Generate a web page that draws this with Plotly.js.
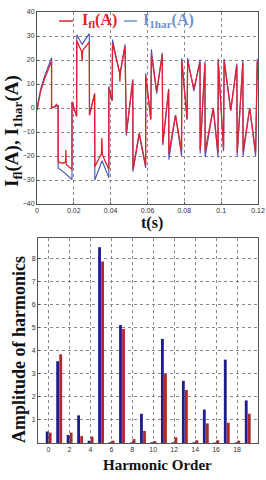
<!DOCTYPE html>
<html>
<head>
<meta charset="utf-8">
<script src="https://cdn.plot.ly/plotly-3.0.1.min.js"></script>
<style>
html,body{margin:0;padding:0;background:#fff;}
#chart{width:266px;height:480px;}
</style>
</head>
<body>
<div id="chart"></div>
<script>
// ---- Time-domain data (s, A) ----
const tHar = [0,0.0008,0.002,0.004,0.006,0.0079,0.0079,0.0095,0.0115,0.0115,0.015,0.019,0.019,0.0215,0.0216,0.0245,0.0284,0.0285,0.0313,0.0314,0.0353,0.039,0.039,0.0408,0.041,0.045,0.0478,0.0485,0.052,0.0521,0.0555,0.059,0.059,0.0618,0.0621,0.065,0.068,0.0683,0.0715,0.0716,0.0752,0.0785,0.0786,0.0815,0.0818,0.0852,0.0885,0.0886,0.0912,0.0913,0.0957,0.0983,0.0984,0.1013,0.1016,0.1052,0.1085,0.1087,0.1118,0.1119,0.1155,0.1187,0.1196,0.12];
const iHar = [0,3,8,13,17,21,0.5,0.3,1.2,-25,-27,-29.8,2.5,-3.5,30.5,26.5,31,-3,6,-30,-22,-29,9,3,28.5,14,26.5,-11.5,12,-26.5,-11,-25,14.5,-5,24.5,6,23,-15.5,8,-21.5,-3,-20,20.8,-5,20.8,7,20.2,-19,19.5,-20.5,0,-20.5,20.5,-18,20.5,-1,18.5,-20,20,-20,0,-20,20.5,12.5];

const tFl = [0,0.0008,0.002,0.004,0.006,0.0079,0.0079,0.0095,0.0105,0.0112,0.0115,0.0115,0.014,0.0155,0.0157,0.0159,0.019,0.019,0.0215,0.0216,0.0242,0.0245,0.0248,0.0284,0.0285,0.0313,0.0314,0.035,0.0352,0.0355,0.039,0.039,0.0408,0.041,0.0448,0.045,0.0453,0.0478,0.0485,0.052,0.0521,0.0555,0.059,0.059,0.0618,0.0621,0.065,0.068,0.0683,0.0715,0.0716,0.0752,0.0785,0.0786,0.0815,0.0818,0.0852,0.0885,0.0886,0.0912,0.0913,0.0957,0.0983,0.0984,0.1013,0.1016,0.1052,0.1085,0.1087,0.1118,0.1119,0.1155,0.1187,0.1196,0.12];
const iFl = [-1,2,7,12,15.5,19.5,0,0.5,1.5,0.5,1,-22.5,-23,-22.5,-17.5,-23.5,-25.5,2.5,-3.5,28,23.5,19.5,24,27.5,-3,6,-24.5,-19,-12.5,-19.5,-25.5,8.5,3,27,15,11,15,25.5,-10.5,11.5,-25.5,-10.5,-24,13.5,-4.5,22,7,22,-14.5,7.5,-19,-3,-18,19.5,-4.5,19.5,8,19,-17.5,18.5,-18,0,-18.5,19.5,-17,19.5,-1,17.8,-18.5,18.5,-18,0,-18.5,19.5,12];

// ---- Harmonic spectrum data ----
const harmOrder = [0,1,2,3,4,5,6,7,8,9,10,11,12,13,14,15,16,17,18,19];
const ampBlue = [0.5,3.55,0.35,1.2,0.1,8.5,0.03,5.12,0.02,1.27,0.03,4.52,0.03,2.7,0.03,1.45,0.02,3.62,0.02,1.85];
const ampRed  = [0.45,3.85,0.45,0.3,0.28,7.88,0.1,4.95,0.17,0.52,0.08,3.0,0.25,2.3,0.12,0.85,0.12,0.88,0.1,1.27];

const xTickVals1 = [0,0.02,0.04,0.06,0.08,0.1,0.12];
const xTickText1 = ['0','0.02','0.04','0.06','0.08','0.1','0.12'];
const yTickVals1 = [-40,-30,-20,-10,0,10,20,30,40];
const xTickVals2 = [0,2,4,6,8,10,12,14,16,18];
const yTickVals2 = [1,2,3,4,5,6,7,8];

const W = 266, H = 480;
const px = x => x / W;
const py = y => 1 - y / H;

const RED = '#e3222b';
const BLUE = '#4a4fc4';
const BLUE_TXT = '#6f8fd0';
const SERIF = 'Liberation Serif, Times New Roman, serif';

const traces = [
  {x: tHar, y: iHar, type: 'scatter', mode: 'lines', line: {color: BLUE, width: 1.1}, xaxis: 'x', yaxis: 'y', showlegend: false},
  {x: tFl, y: iFl, type: 'scatter', mode: 'lines', line: {color: RED, width: 1.3}, xaxis: 'x', yaxis: 'y', showlegend: false},
  {x: harmOrder, y: ampBlue, type: 'bar', width: 0.27, offset: -0.26, marker: {color: '#1e1e8e'}, xaxis: 'x2', yaxis: 'y2', showlegend: false},
  {x: harmOrder, y: ampRed, type: 'bar', width: 0.27, offset: 0.03, marker: {color: '#a92b2e'}, xaxis: 'x2', yaxis: 'y2', showlegend: false}
];

const axCommon = {
  showgrid: true, gridcolor: '#8a8a8a', griddash: 'dot', gridwidth: 1,
  showline: true, linecolor: '#555', linewidth: 1, mirror: true,
  ticks: 'inside', ticklen: 2, tickcolor: '#555',
  tickfont: {size: 7, color: '#333', family: 'Arial'},
  zeroline: false, fixedrange: true
};

const layout = {
  width: W, height: H,
  margin: {l: 0, r: 0, t: 0, b: 0},
  paper_bgcolor: '#fff', plot_bgcolor: '#fff',
  barmode: 'overlay',
  xaxis: Object.assign({}, axCommon, {domain: [px(37), px(258)], range: [0, 0.12], tickvals: xTickVals1, ticktext: xTickText1, anchor: 'y'}),
  yaxis: Object.assign({}, axCommon, {domain: [py(204), py(12)], range: [-40, 40], tickvals: yTickVals1, anchor: 'x'}),
  xaxis2: Object.assign({}, axCommon, {domain: [px(38), px(258)], range: [-1, 20], tickvals: xTickVals2, anchor: 'y2'}),
  yaxis2: Object.assign({}, axCommon, {domain: [py(443), py(238)], range: [0, 8.9], tickvals: yTickVals2, anchor: 'x2'}),
  shapes: [
    {type: 'line', xref: 'paper', yref: 'paper', x0: px(59), x1: px(73), y0: py(21), y1: py(21), line: {color: RED, width: 1.5}},
    {type: 'line', xref: 'paper', yref: 'paper', x0: px(124), x1: px(137), y0: py(21), y1: py(21), line: {color: BLUE_TXT, width: 1.5}}
  ],
  annotations: [
    {xref: 'paper', yref: 'paper', x: px(80), y: py(21), xanchor: 'left', yanchor: 'middle', showarrow: false,
     text: '<b>I<sub>fl</sub>(A)</b>', font: {family: SERIF, size: 16, color: RED}},
    {xref: 'paper', yref: 'paper', x: px(141), y: py(21), xanchor: 'left', yanchor: 'middle', showarrow: false,
     text: '<b>I<sub>1har</sub>(A)</b>', font: {family: SERIF, size: 16, color: BLUE_TXT}},
    {xref: 'paper', yref: 'paper', x: px(13), y: py(131), xanchor: 'center', yanchor: 'middle', showarrow: false, textangle: -90,
     text: '<b>I<sub>fl</sub>(A), I<sub>1har</sub>(A)</b>', font: {family: SERIF, size: 19, color: '#111'}},
    {xref: 'paper', yref: 'paper', x: px(152), y: py(223), xanchor: 'center', yanchor: 'middle', showarrow: false,
     text: '<b>t(s)</b>', font: {family: SERIF, size: 16, color: '#111'}},
    {xref: 'paper', yref: 'paper', x: px(19), y: py(350), xanchor: 'center', yanchor: 'middle', showarrow: false, textangle: -90,
     text: '<b>Amplitude of harmonics</b>', font: {family: SERIF, size: 18, color: '#111'}},
    {xref: 'paper', yref: 'paper', x: px(157), y: py(465), xanchor: 'center', yanchor: 'middle', showarrow: false,
     text: '<b>Harmonic Order</b>', font: {family: SERIF, size: 15, color: '#111'}}
  ]
};

Plotly.newPlot('chart', traces, layout, {displayModeBar: false, staticPlot: true});
</script>
</body>
</html>
